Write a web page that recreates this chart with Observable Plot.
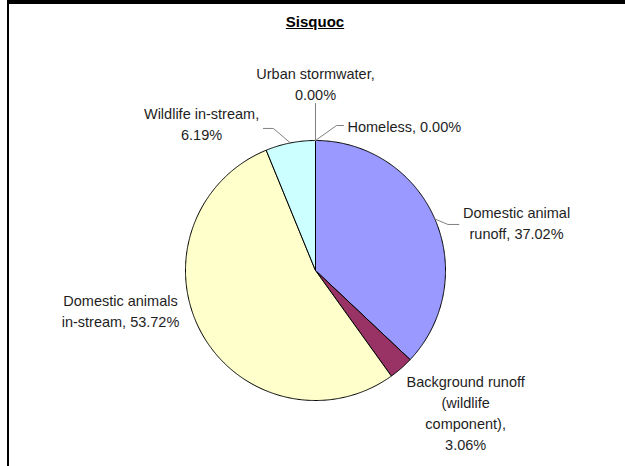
<!DOCTYPE html>
<html><head><meta charset="utf-8">
<script src="https://cdn.jsdelivr.net/npm/d3@7"></script>
<script src="https://cdn.jsdelivr.net/npm/@observablehq/plot@0.6"></script>
<style>
body{margin:0;background:#fff;}
#wrap{position:relative;width:625px;height:466px;overflow:hidden;font-family:"Liberation Sans",Arial,sans-serif;}
#frame{position:absolute;left:7px;top:0;width:618px;height:466px;border-top:4px solid #000;border-left:2px solid #000;box-sizing:border-box;pointer-events:none;}
#title{position:absolute;left:0;width:630px;top:13px;line-height:18px;text-align:center;font-weight:bold;font-size:15px;text-decoration:underline;color:#000;}
#chart{position:absolute;left:0;top:0;}
</style></head><body>
<div id="wrap"><div id="chart"></div><div id="frame"></div><div id="title">Sisquoc</div></div>
<script>
// ---- data ----
const categories = ["Domestic animal runoff", "Background runoff (wildlife component)", "Domestic animals in-stream", "Wildlife in-stream", "Urban stormwater", "Homeless"];
const values = [37.02, 3.06, 53.72, 6.19, 0.00, 0.00];
const labelNames = ["Domestic animal\nrunoff", "Background runoff\n(wildlife\ncomponent)", "Domestic animals\nin-stream", "Wildlife in-stream", "Urban stormwater", "Homeless"];
const labelSeps = [", ", ",\n", ", ", ",\n", ",\n", ", "];

// ---- style / layout ----
const colors = ["#9999FF", "#993366", "#FFFFCC", "#CCFFFF", "#FFCC99", "#CC99FF"];
const R = 130;
const labelOffset = [[81.7, 3], [64.5, 43.6], [-81.3, -24.1], [-88.8, -20.5], [0, -58], [32, -15]];
const labelAnchor = ["middle", "middle", "middle", "middle", "middle", "start"];
const leaderOffset = [[[13, 5.5], [24, 5.5]], null, null, [[-17, -14.5], [-27, -14.5]], [[0, -37]], [[21, -15], [28, -15]]];

const arcs = d3.pie().sort(null).startAngle(0).endAngle(2 * Math.PI)(values);
const polar = (a, r) => [r * Math.sin(a), -r * Math.cos(a)];

const slicePts = [];
arcs.forEach((arc, i) => {
  if (arc.endAngle - arc.startAngle <= 0) return;
  const name = categories[i];
  slicePts.push({name, x: 0, y: 0});
  const n = Math.max(2, Math.ceil((arc.endAngle - arc.startAngle) / (Math.PI / 360)));
  for (let k = 0; k <= n; k++) {
    const a = arc.startAngle + (arc.endAngle - arc.startAngle) * k / n;
    const [x, y] = polar(a, R);
    slicePts.push({name, x, y});
  }
  slicePts.push({name, x: 0, y: 0});
});

const labels = [];
const leaders = [];
arcs.forEach((arc, i) => {
  const mid = (arc.startAngle + arc.endAngle) / 2;
  const [ex, ey] = polar(mid, R);
  labels.push({
    x: ex + labelOffset[i][0], y: ey + labelOffset[i][1],
    text: labelNames[i] + labelSeps[i] + values[i].toFixed(2) + "%",
    anchor: labelAnchor[i]
  });
  if (leaderOffset[i]) {
    leaders.push({id: i, x: ex, y: ey});
    leaderOffset[i].forEach(([dx, dy]) => leaders.push({id: i, x: ex + dx, y: ey + dy}));
  }
});

const textOpts = {fontFamily: "Liberation Sans, Arial, sans-serif", fontSize: 14.5, fill: "#1e1e1e", lineHeight: 21 / 14.5, lineAnchor: "middle"};

const chart = Plot.plot({
  width: 625, height: 466,
  margin: 0,
  x: {domain: [-315, 310], range: [0, 625], axis: null},
  y: {domain: [-270, 196], range: [0, 466], axis: null},
  color: {type: "ordinal", domain: categories, range: colors},
  style: {background: "transparent", overflow: "visible"},
  marks: [
    Plot.line(slicePts, {x: "x", y: "y", z: "name", fill: "name", stroke: "#000", strokeWidth: 1, curve: "linear"}),
    Plot.line(leaders, {x: "x", y: "y", z: "id", stroke: "#808080", strokeWidth: 1, curve: "linear"}),
    Plot.text(labels.filter(d => d.anchor === "middle"), {x: "x", y: "y", text: "text", textAnchor: "middle", ...textOpts}),
    Plot.text(labels.filter(d => d.anchor === "start"), {x: "x", y: "y", text: "text", textAnchor: "start", ...textOpts})
  ]
});
document.getElementById("chart").appendChild(chart);
</script>
</body></html>
